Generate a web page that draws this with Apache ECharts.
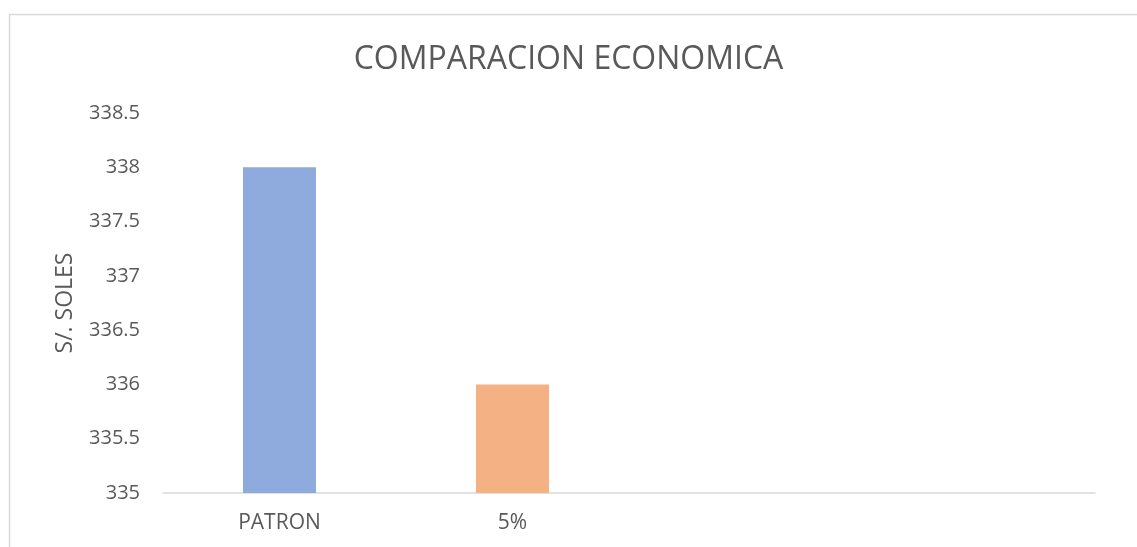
<!DOCTYPE html>
<html>
<head>
<meta charset="utf-8">
<script src="https://cdn.jsdelivr.net/npm/echarts@6/dist/echarts.min.js"></script>
<style>
html,body{margin:0;padding:0;background:#fff;}
#chart{width:1137px;height:547px;}
</style>
</head>
<body>
<div id="chart"></div>
<script>
const categories = ['PATRON', '5%', '', ''];
const values = [338, 336, null, null];
const barColors = ['#8FAADC', '#F4B183', '#8FAADC', '#8FAADC'];
const yTicks = { min: 335, max: 338.5, interval: 0.5 };

const chart = echarts.init(document.getElementById('chart'));
const font = '"Open Sans", "Noto Sans", sans-serif';
chart.setOption({
  animation: false,
  backgroundColor: '#fff',
  graphic: [{
    type: 'rect',
    shape: { x: 9.5, y: 14.5, width: 1300, height: 700 },
    style: { fill: 'none', stroke: '#d9d9d9', lineWidth: 1.5 },
    silent: true
  }],
  title: {
    text: 'COMPARACION ECONOMICA',
    left: 'center',
    top: 39,
    textStyle: { fontFamily: font, fontSize: 32, fontWeight: 'normal', color: '#595959' }
  },
  grid: { left: 163, right: 42, top: 113, bottom: 54, containLabel: false },
  xAxis: {
    type: 'category',
    data: categories,
    axisLine: { lineStyle: { color: '#d9d9d9', width: 1.5 } },
    axisTick: { show: false },
    axisLabel: { fontFamily: font, fontSize: 21, color: '#595959', margin: 20 }
  },
  yAxis: {
    type: 'value',
    min: yTicks.min, max: yTicks.max, interval: yTicks.interval,
    name: 'S/. SOLES',
    nameLocation: 'middle',
    nameGap: 86,
    nameTextStyle: { fontFamily: font, fontSize: 23, color: '#595959' },
    axisLine: { show: false },
    axisTick: { show: false },
    splitLine: { show: false },
    axisLabel: { fontFamily: font, fontSize: 20, color: '#595959', margin: 23,
      formatter: v => String(v) }
  },
  series: [{
    type: 'bar',
    barWidth: 73,
    data: values.map((v, i) => ({ value: v, itemStyle: { color: barColors[i] } }))
  }]
});
</script>
</body>
</html>
